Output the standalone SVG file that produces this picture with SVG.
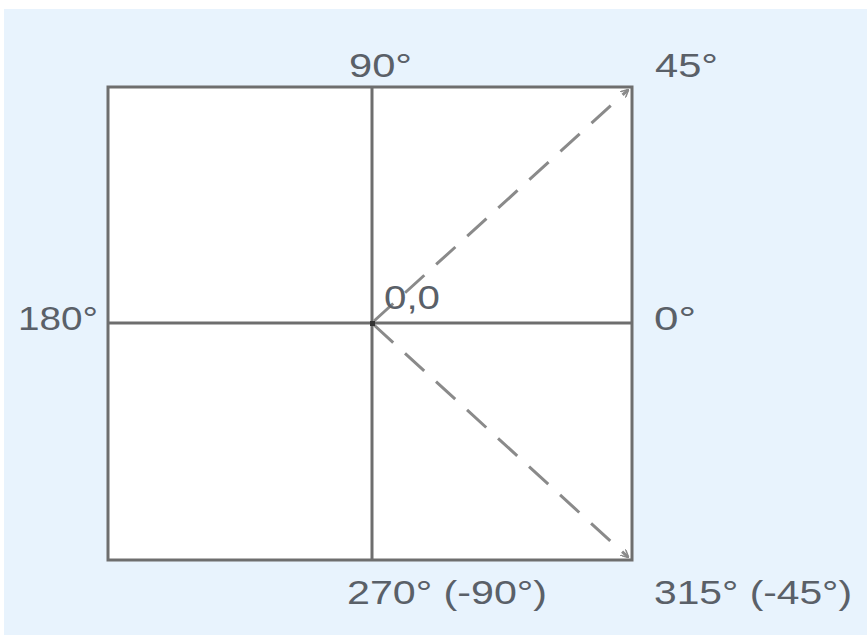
<svg xmlns="http://www.w3.org/2000/svg" width="867" height="635" viewBox="0 0 867 635">
<defs>
<style>
.lbl{font-family:"Liberation Sans",Arial,sans-serif;font-size:33px;fill:#5a6068}
.axis{stroke:#6e6e6e;stroke-width:3;fill:none}
.box{stroke:#6e6e6e;stroke-width:3;fill:#ffffff}
.dash{stroke:#8a8a8a;stroke-width:3;stroke-dasharray:26 16;fill:none}
</style>
<marker id="ah" markerWidth="8" markerHeight="8" refX="7" refY="4" orient="auto" markerUnits="userSpaceOnUse">
<path d="M0,0 L8,4 L0,8" fill="none" stroke="#8a8a8a" stroke-width="1.5"/>
</marker>
</defs>
<rect x="0" y="0" width="867" height="635" fill="#ffffff"/>
<rect x="4" y="9" width="863" height="626" fill="#e8f3fd"/>
<g id="frame">
<rect class="box" x="108" y="87" width="524" height="473"/>
</g>
<g id="connectors">
<line class="axis" x1="372" y1="87" x2="372" y2="560"/>
<line class="axis" x1="108" y1="323" x2="632" y2="323"/>
<line class="dash" x1="374" y1="321" x2="628" y2="90" marker-end="url(#ah)"/>
<line class="dash" x1="374" y1="325" x2="628" y2="557" marker-end="url(#ah)"/>
</g>
<g id="origin"><rect x="370" y="321" width="5" height="5" fill="#333"/><text class="lbl" x="384" y="309" textLength="56" lengthAdjust="spacingAndGlyphs">0,0</text></g>
<g id="l90"><text class="lbl" x="349" y="77" textLength="63" lengthAdjust="spacingAndGlyphs">90°</text></g>
<g id="l45"><text class="lbl" x="655" y="77" textLength="63" lengthAdjust="spacingAndGlyphs">45°</text></g>
<g id="l180"><text class="lbl" x="18" y="330" textLength="80" lengthAdjust="spacingAndGlyphs">180°</text></g>
<g id="l0"><text class="lbl" x="654" y="330" textLength="42" lengthAdjust="spacingAndGlyphs">0°</text></g>
<g id="l270"><text class="lbl" x="347" y="604" textLength="200" lengthAdjust="spacingAndGlyphs">270° (-90°)</text></g>
<g id="l315"><text class="lbl" x="654" y="604" textLength="198" lengthAdjust="spacingAndGlyphs">315° (-45°)</text></g>
</svg>
